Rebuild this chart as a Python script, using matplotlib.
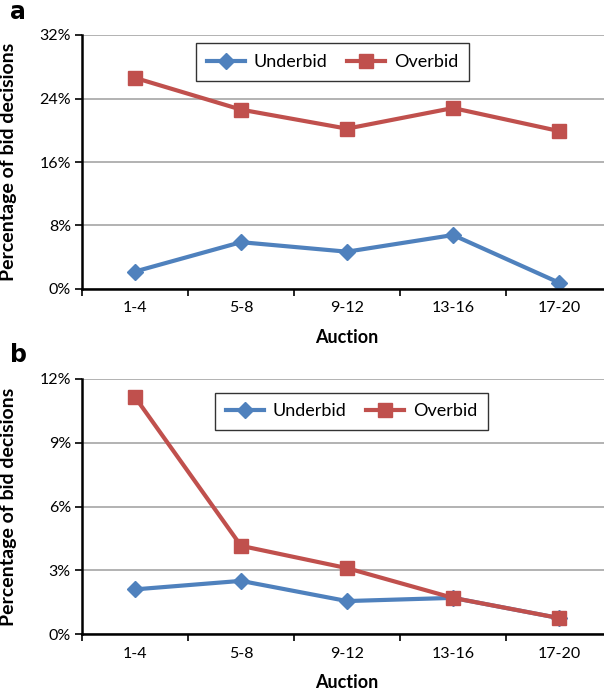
import matplotlib
matplotlib.use("Agg")
import matplotlib.pyplot as plt
from matplotlib.ticker import FuncFormatter
import numpy as np

plt.rcParams['font.family'] = ['Lato', 'DejaVu Sans']

auctions = ["1-4", "5-8", "9-12", "13-16", "17-20"]

# panel a
under_a = [2.2, 5.9, 4.7, 6.8, 0.8]
over_a = [26.6, 22.6, 20.2, 22.8, 19.9]
yticks_a = [0, 8, 16, 24, 32]

# panel b
under_b = [2.1, 2.5, 1.55, 1.7, 0.75]
over_b = [11.15, 4.15, 3.1, 1.7, 0.75]
yticks_b = [0, 3, 6, 9, 12]

BLUE = '#4F81BD'
RED = '#C0504D'

W, H = 604, 698
fig = plt.figure(figsize=(W / 100, H / 100), dpi=100)


def make_panel(rect, under, over, yticks, letter, leg_box):
    x0, y0, x1, y1 = rect
    ax = fig.add_axes([x0 / W, 1 - y1 / H, (x1 - x0) / W, (y1 - y0) / H])
    x = np.arange(len(auctions)) + 0.5
    ax.plot(x, under, color=BLUE, lw=3, marker='D', ms=8, label='Underbid', zorder=3)
    ax.plot(x, over, color=RED, lw=3, marker='s', ms=10, label='Overbid', zorder=3)
    ax.set_xlim(0, len(auctions))
    ax.set_ylim(yticks[0], yticks[-1])
    ax.set_yticks(yticks)
    ax.yaxis.set_major_formatter(FuncFormatter(lambda v, p: f"{v:.0f}%"))
    ax.set_xticks(x)
    ax.set_xticklabels(auctions)
    ax.set_xticks(np.arange(len(auctions) + 1), minor=True)
    ax.tick_params(axis='x', which='major', length=0, pad=9, labelsize=11.5)
    ax.tick_params(axis='x', which='minor', length=5, width=1.2, direction='out')
    ax.tick_params(axis='y', length=5, width=1.2, direction='out', labelsize=11.5, pad=3)
    ax.grid(axis='y', color='#A6A6A6', lw=1.2)
    ax.set_axisbelow(True)
    for s in ['top', 'right']:
        ax.spines[s].set_visible(False)
    for s in ['left', 'bottom']:
        ax.spines[s].set_linewidth(1.8)
        ax.spines[s].set_zorder(4)
    ax.set_ylabel('Percentage of bid decisions', fontsize=14, fontweight='bold')
    ax.set_xlabel('Auction', fontsize=13, fontweight='bold', labelpad=10)
    ax.yaxis.set_label_coords(-(x0 - 17) / (x1 - x0), 0.5)
    bx0, by0, bx1, by1 = leg_box
    leg = ax.legend(ncol=2, loc='center',
                    bbox_to_anchor=(((bx0 + bx1) / 2 - x0) / (x1 - x0),
                                    1 - ((by0 + by1) / 2 - y0) / (y1 - y0)),
                    fontsize=13, frameon=True, fancybox=False, handlelength=2.1,
                    columnspacing=1.1, borderpad=0.6, handletextpad=0.5)
    leg.get_frame().set_edgecolor('black')
    leg.get_frame().set_linewidth(1.0)
    fig.text(18 / W, 1 - letter[1] / H, letter[0], fontsize=17, fontweight='bold',
             ha='center', va='center', family='DejaVu Sans')
    return ax


make_panel((82, 35, 612, 289), under_a, over_a, yticks_a, ('a', 12), (200, 44, 465, 80))
make_panel((82, 379, 612, 634), under_b, over_b, yticks_b, ('b', 355), (218, 393, 485, 430))

fig.savefig('out.png', dpi=100)
